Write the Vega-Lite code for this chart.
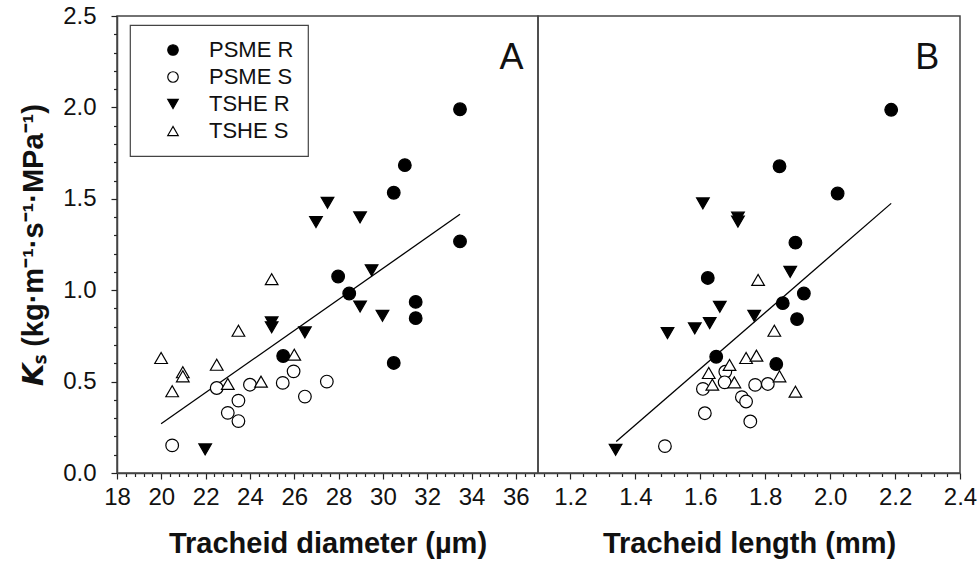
{
  "$schema": "https://vega.github.io/schema/vega-lite/v6.json",
  "background": "white",
  "padding": {"left": 18, "top": 3, "right": 12, "bottom": 8},
  "bounds": "flush",
  "config": {
    "font": "Liberation Sans",
    "view": {"stroke": "#444", "strokeWidth": 1.5},
    "legend": {"strokeWidth": 1.2, "symbolStrokeWidth": 1.2, "symbolStrokeColor": "black"},
    "axis": {
      "domainColor": "#444", "domainWidth": 1.5, "tickColor": "#222", "tickWidth": 1.2,
      "labelColor": "#111", "titleColor": "#111", "labelFont": "Liberation Sans", "labelFontSize": 24,
      "grid": false, "labelOverlap": false, "labelBound": false, "labelFlush": false,
      "titleFont": "Liberation Sans", "titleFontWeight": "bold", "titleFontSize": 29
    }
  },
  "datasets": {
    "diam": [
      {"group": "PSME R", "diameter": 33.48, "ks": 1.99},
      {"group": "PSME R", "diameter": 30.99, "ks": 1.684},
      {"group": "PSME R", "diameter": 30.49, "ks": 1.533},
      {"group": "PSME R", "diameter": 33.48, "ks": 1.267},
      {"group": "PSME R", "diameter": 27.98, "ks": 1.075},
      {"group": "PSME R", "diameter": 28.48, "ks": 0.982},
      {"group": "PSME R", "diameter": 31.48, "ks": 0.936},
      {"group": "PSME R", "diameter": 31.48, "ks": 0.847},
      {"group": "PSME R", "diameter": 25.5, "ks": 0.64},
      {"group": "PSME R", "diameter": 30.49, "ks": 0.602},
      {"group": "PSME S", "diameter": 22.5, "ks": 0.465},
      {"group": "PSME S", "diameter": 24.0, "ks": 0.483},
      {"group": "PSME S", "diameter": 25.48, "ks": 0.493},
      {"group": "PSME S", "diameter": 25.97, "ks": 0.556},
      {"group": "PSME S", "diameter": 27.47, "ks": 0.5},
      {"group": "PSME S", "diameter": 23.48, "ks": 0.396},
      {"group": "PSME S", "diameter": 26.48, "ks": 0.418},
      {"group": "PSME S", "diameter": 23.0, "ks": 0.329},
      {"group": "PSME S", "diameter": 23.48, "ks": 0.284},
      {"group": "PSME S", "diameter": 20.49, "ks": 0.151},
      {"group": "TSHE R", "diameter": 27.5, "ks": 1.478},
      {"group": "TSHE R", "diameter": 26.98, "ks": 1.373},
      {"group": "TSHE R", "diameter": 28.97, "ks": 1.398},
      {"group": "TSHE R", "diameter": 29.49, "ks": 1.109},
      {"group": "TSHE R", "diameter": 28.97, "ks": 0.911},
      {"group": "TSHE R", "diameter": 29.98, "ks": 0.86},
      {"group": "TSHE R", "diameter": 24.98, "ks": 0.824},
      {"group": "TSHE R", "diameter": 24.98, "ks": 0.797},
      {"group": "TSHE R", "diameter": 26.48, "ks": 0.769},
      {"group": "TSHE R", "diameter": 21.98, "ks": 0.129},
      {"group": "TSHE S", "diameter": 24.98, "ks": 1.06},
      {"group": "TSHE S", "diameter": 23.48, "ks": 0.778},
      {"group": "TSHE S", "diameter": 26.0, "ks": 0.647},
      {"group": "TSHE S", "diameter": 19.99, "ks": 0.629},
      {"group": "TSHE S", "diameter": 22.5, "ks": 0.592},
      {"group": "TSHE S", "diameter": 20.97, "ks": 0.551},
      {"group": "TSHE S", "diameter": 20.97, "ks": 0.529},
      {"group": "TSHE S", "diameter": 20.49, "ks": 0.447},
      {"group": "TSHE S", "diameter": 23.0, "ks": 0.487},
      {"group": "TSHE S", "diameter": 24.5, "ks": 0.5}
    ],
    "len": [
      {"group": "PSME R", "length": 2.188, "ks": 1.987},
      {"group": "PSME R", "length": 1.844, "ks": 1.678},
      {"group": "PSME R", "length": 2.023, "ks": 1.529},
      {"group": "PSME R", "length": 1.893, "ks": 1.26},
      {"group": "PSME R", "length": 1.623, "ks": 1.067},
      {"group": "PSME R", "length": 1.919, "ks": 0.982},
      {"group": "PSME R", "length": 1.854, "ks": 0.929},
      {"group": "PSME R", "length": 1.898, "ks": 0.842},
      {"group": "PSME R", "length": 1.649, "ks": 0.636},
      {"group": "PSME R", "length": 1.834, "ks": 0.596},
      {"group": "PSME S", "length": 1.677, "ks": 0.554},
      {"group": "PSME S", "length": 1.608, "ks": 0.46},
      {"group": "PSME S", "length": 1.675, "ks": 0.496},
      {"group": "PSME S", "length": 1.769, "ks": 0.482},
      {"group": "PSME S", "length": 1.808, "ks": 0.487},
      {"group": "PSME S", "length": 1.728, "ks": 0.415},
      {"group": "PSME S", "length": 1.741, "ks": 0.391},
      {"group": "PSME S", "length": 1.614, "ks": 0.327},
      {"group": "PSME S", "length": 1.754, "ks": 0.282},
      {"group": "PSME S", "length": 1.491, "ks": 0.147},
      {"group": "TSHE R", "length": 1.608, "ks": 1.475},
      {"group": "TSHE R", "length": 1.716, "ks": 1.397},
      {"group": "TSHE R", "length": 1.716, "ks": 1.375},
      {"group": "TSHE R", "length": 1.877, "ks": 1.1},
      {"group": "TSHE R", "length": 1.66, "ks": 0.909},
      {"group": "TSHE R", "length": 1.766, "ks": 0.86},
      {"group": "TSHE R", "length": 1.629, "ks": 0.82},
      {"group": "TSHE R", "length": 1.583, "ks": 0.791},
      {"group": "TSHE R", "length": 1.499, "ks": 0.765},
      {"group": "TSHE R", "length": 1.339, "ks": 0.127},
      {"group": "TSHE S", "length": 1.778, "ks": 1.056},
      {"group": "TSHE S", "length": 1.828, "ks": 0.778},
      {"group": "TSHE S", "length": 1.741, "ks": 0.629},
      {"group": "TSHE S", "length": 1.773, "ks": 0.642},
      {"group": "TSHE S", "length": 1.69, "ks": 0.591},
      {"group": "TSHE S", "length": 1.626, "ks": 0.547},
      {"group": "TSHE S", "length": 1.844, "ks": 0.529},
      {"group": "TSHE S", "length": 1.637, "ks": 0.483},
      {"group": "TSHE S", "length": 1.705, "ks": 0.496},
      {"group": "TSHE S", "length": 1.893, "ks": 0.445}
    ],
    "fitA": [
      {"diameter": 19.99, "ks": 0.269},
      {"diameter": 33.48, "ks": 1.415}
    ],
    "fitB": [
      {"length": 1.341, "ks": 0.172},
      {"length": 2.188, "ks": 1.475}
    ]
  },
  "spacing": 0,
  "resolve": {"legend": {"fill": "independent", "shape": "independent", "stroke": "independent"}},
  "hconcat": [
    {
      "width": 421,
      "height": 457,
      "layer": [
        {
          "data": {"name": "fitA"},
          "mark": {"type": "line", "color": "black", "strokeWidth": 1.3},
          "encoding": {
            "x": {"field": "diameter", "type": "quantitative"},
            "y": {"field": "ks", "type": "quantitative"}
          }
        },
        {
          "data": {"name": "diam"},
          "mark": {"type": "point", "filled": true, "size": 160, "strokeWidth": 1.2, "opacity": 1},
          "encoding": {
            "x": {"field": "diameter", "type": "quantitative"},
            "y": {"field": "ks", "type": "quantitative"},
            "fill": {
              "field": "group", "type": "nominal",
              "scale": {"domain": ["PSME R", "PSME S", "TSHE R", "TSHE S"], "range": ["black", "white", "black", "white"]},
              "legend": {
                "title": null, "orient": "none", "legendX": 13, "legendY": 9,
                "strokeColor": "#444", "fillColor": "white", "padding": 14,
                "labelFont": "Liberation Sans", "labelFontSize": 22, "labelColor": "#111",
                "symbolSize": 110, "symbolOffset": 18, "labelOffset": 25, "rowPadding": 5
              }
            },
            "stroke": {
              "field": "group", "type": "nominal",
              "scale": {"domain": ["PSME R", "PSME S", "TSHE R", "TSHE S"], "range": ["black", "black", "black", "black"]},
              "legend": {
                "title": null, "orient": "none", "legendX": 13, "legendY": 9,
                "strokeColor": "#444", "fillColor": "white", "padding": 14,
                "labelFont": "Liberation Sans", "labelFontSize": 22, "labelColor": "#111",
                "symbolSize": 110, "symbolOffset": 18, "labelOffset": 25, "rowPadding": 5
              }
            },
            "shape": {
              "field": "group", "type": "nominal",
              "scale": {"domain": ["PSME R", "PSME S", "TSHE R", "TSHE S"], "range": ["circle", "circle", "triangle-down", "triangle-up"]},
              "legend": {
                "title": null, "orient": "none", "legendX": 13, "legendY": 9,
                "strokeColor": "#444", "fillColor": "white", "padding": 14,
                "labelFont": "Liberation Sans", "labelFontSize": 22, "labelColor": "#111",
                "symbolSize": 110, "symbolOffset": 18, "labelOffset": 25, "rowPadding": 5
              }
            }
          }
        },
        {
          "data": {"values": [{"label": "A"}]},
          "mark": {"type": "text", "fontSize": 36, "font": "Liberation Sans", "color": "#111", "align": "center", "baseline": "middle"},
          "encoding": {
            "x": {"datum": 35.8, "type": "quantitative"},
            "y": {"datum": 2.268, "type": "quantitative"},
            "text": {"field": "label"}
          }
        }
      ],
      "encoding": {
        "x": {
          "type": "quantitative",
          "scale": {"domain": [18, 37], "nice": false, "zero": false},
          "axis": {
            "title": "Tracheid diameter (µm)",
            "values": [18, 18.4, 18.8, 19.2, 19.6, 20, 20.4, 20.8, 21.2, 21.6, 22, 22.4, 22.8, 23.2, 23.6, 24, 24.4, 24.8, 25.2, 25.6, 26, 26.4, 26.8, 27.2, 27.6, 28, 28.4, 28.8, 29.2, 29.6, 30, 30.4, 30.8, 31.2, 31.6, 32, 32.4, 32.8, 33.2, 33.6, 34, 34.4, 34.8, 35.2, 35.6, 36, 36.4, 36.8],
            "labelExpr": "abs(datum.value/2 - round(datum.value/2)) < 0.01 ? format(datum.value, '.0f') : ''",
            "tickSize": {"condition": {"test": "abs(datum.value/2 - round(datum.value/2)) < 0.01", "value": 6}, "value": 3.5},
            "labelPadding": 6,
            "titlePadding": 20
          }
        },
        "y": {
          "type": "quantitative",
          "scale": {"domain": [0, 2.5], "nice": false, "zero": false},
          "axis": {
            "title": "𝙆ₛ (kg·m⁻¹·s⁻¹·MPa⁻¹)",
            "titleFontSize": 29,
            "values": [0, 0.1, 0.2, 0.3, 0.4, 0.5, 0.6, 0.7, 0.8, 0.9, 1, 1.1, 1.2, 1.3, 1.4, 1.5, 1.6, 1.7, 1.8, 1.9, 2, 2.1, 2.2, 2.3, 2.4, 2.5],
            "labelExpr": "abs(datum.value*2 - round(datum.value*2)) < 0.01 ? format(datum.value, '.1f') : ''",
            "tickSize": {"condition": {"test": "abs(datum.value*2 - round(datum.value*2)) < 0.01", "value": 6}, "value": 3.5},
            "labelPadding": 15,
            "titlePadding": 14
          }
        }
      }
    },
    {
      "width": 422,
      "height": 457,
      "layer": [
        {
          "data": {"name": "fitB"},
          "mark": {"type": "line", "color": "black", "strokeWidth": 1.3},
          "encoding": {
            "x": {"field": "length", "type": "quantitative"},
            "y": {"field": "ks", "type": "quantitative"}
          }
        },
        {
          "data": {"name": "len"},
          "mark": {"type": "point", "filled": true, "size": 160, "stroke": "black", "strokeWidth": 1.2, "opacity": 1},
          "encoding": {
            "x": {"field": "length", "type": "quantitative"},
            "y": {"field": "ks", "type": "quantitative"},
            "fill": {
              "field": "group", "type": "nominal",
              "scale": {"domain": ["PSME R", "PSME S", "TSHE R", "TSHE S"], "range": ["black", "white", "black", "white"]},
              "legend": null
            },
            "shape": {
              "field": "group", "type": "nominal",
              "scale": {"domain": ["PSME R", "PSME S", "TSHE R", "TSHE S"], "range": ["circle", "circle", "triangle-down", "triangle-up"]},
              "legend": null
            }
          }
        },
        {
          "data": {"values": [{"label": "B"}]},
          "mark": {"type": "text", "fontSize": 36, "font": "Liberation Sans", "color": "#111", "align": "center", "baseline": "middle"},
          "encoding": {
            "x": {"datum": 2.299, "type": "quantitative"},
            "y": {"datum": 2.268, "type": "quantitative"},
            "text": {"field": "label"}
          }
        }
      ],
      "encoding": {
        "x": {
          "type": "quantitative",
          "scale": {"domain": [1.1, 2.4], "nice": false, "zero": false},
          "axis": {
            "title": "Tracheid length (mm)",
            "values": [1.12, 1.16, 1.2, 1.24, 1.28, 1.32, 1.36, 1.4, 1.44, 1.48, 1.52, 1.56, 1.6, 1.64, 1.68, 1.72, 1.76, 1.8, 1.84, 1.88, 1.92, 1.96, 2.0, 2.04, 2.08, 2.12, 2.16, 2.2, 2.24, 2.28, 2.32, 2.36, 2.4],
            "labelExpr": "abs(datum.value*5 - round(datum.value*5)) < 0.01 ? format(datum.value, '.1f') : ''",
            "tickSize": {"condition": {"test": "abs(datum.value*5 - round(datum.value*5)) < 0.01", "value": 6}, "value": 3.5},
            "labelPadding": 6,
            "titlePadding": 20
          }
        },
        "y": {
          "type": "quantitative",
          "scale": {"domain": [0, 2.5], "nice": false, "zero": false},
          "axis": null
        }
      }
    }
  ]
}
